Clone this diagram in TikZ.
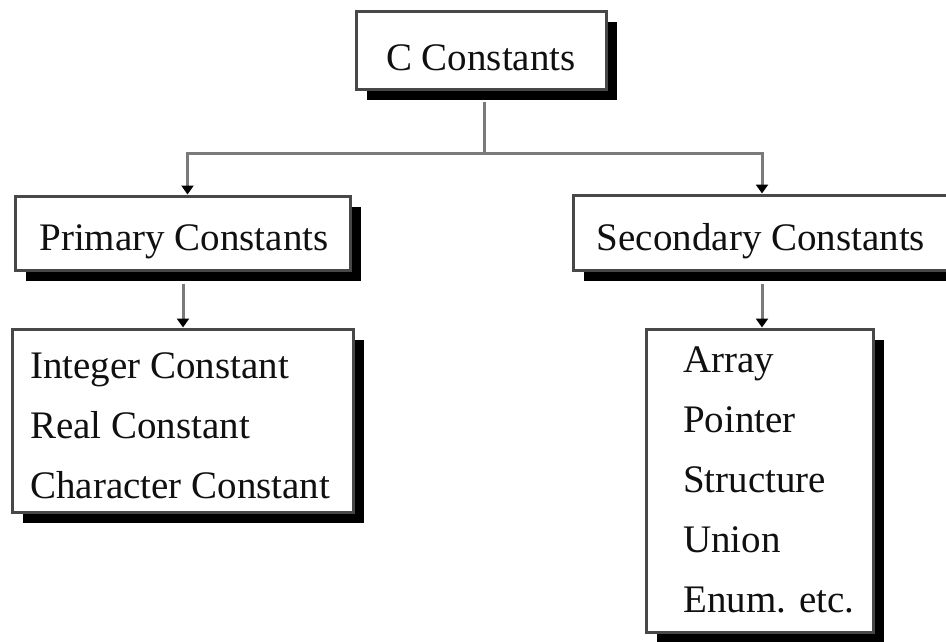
\documentclass[tikz,border=0pt]{standalone}
\usepackage{fontspec}
\setmainfont{Liberation Serif}
\usetikzlibrary{arrows.meta,shadows}
\definecolor{boxgray}{HTML}{484848}
\definecolor{linegray}{HTML}{7A7A7A}
\definecolor{txt}{HTML}{101010}
\begin{document}
\begin{tikzpicture}[x=1pt,y=-1pt,
  box/.style={draw=boxgray, line width=3pt, fill=white, inner sep=0pt,
    drop shadow={shadow xshift=11pt, shadow yshift=-11pt, fill=black, opacity=1}},
  lbl/.style={anchor=base, font=\fontsize{39}{47}\selectfont, text=txt, inner sep=0pt},
  itm/.style={anchor=base west, font=\fontsize{39}{47}\selectfont, text=txt, inner sep=0pt},
  wire/.style={draw=linegray, line width=3pt},
  conn/.style={wire, -{Triangle[width=12pt,length=9pt,color=black]}}]
\clip (0,0) rectangle (946,641);
\fill[white] (0,0) rectangle (946,641);
% boxes
\node[box, minimum width=250pt, minimum height=78pt] (c) at (481,50) {};
\node[box, minimum width=335pt, minimum height=74pt] (p) at (182.5,233) {};
\node[box, minimum width=387pt, minimum height=75pt] (s) at (766.5,232.5) {};
\node[box, minimum width=341pt, minimum height=183pt] (pl) at (182.5,420.5) {};
\node[box, minimum width=227pt, minimum height=303pt] (sl) at (759.5,480.5) {};
% labels
\node[lbl] (ct) at (481,70) {C Constants};
\node[lbl] (pt) at (184,250) {Primary Constants};
\node[lbl] (st) at (761,250) {Secondary Constants};
\node[itm] (p1) at (30,378) {Integer Constant};
\node[itm] (p2) at (30,438) {Real Constant};
\node[itm] (p3) at (30,498) {Character Constant};
\node[itm] (s1) at (683,372) {Array};
\node[itm] (s2) at (683,432) {Pointer};
\node[itm] (s3) at (683,492) {Structure};
\node[itm] (s4) at (683,552) {Union};
\node[itm] (s5) at (683,612) {Enum. etc.};
% connectors
\coordinate (j) at (484,153);
\draw[wire] ([shift={(3,11)}]c.south) -- (j);
\draw[conn] (j) -| ([xshift=5pt]p.north);
\draw[conn] (j) -| ([xshift=-4.5pt]s.north);
\draw[conn] ([shift={(0.5,12)}]p.south) -- ([xshift=0.5pt]pl.north);
\draw[conn] ([shift={(-4.5,12.5)}]s.south) -- ([xshift=2.5pt]sl.north);
\end{tikzpicture}
\end{document}
